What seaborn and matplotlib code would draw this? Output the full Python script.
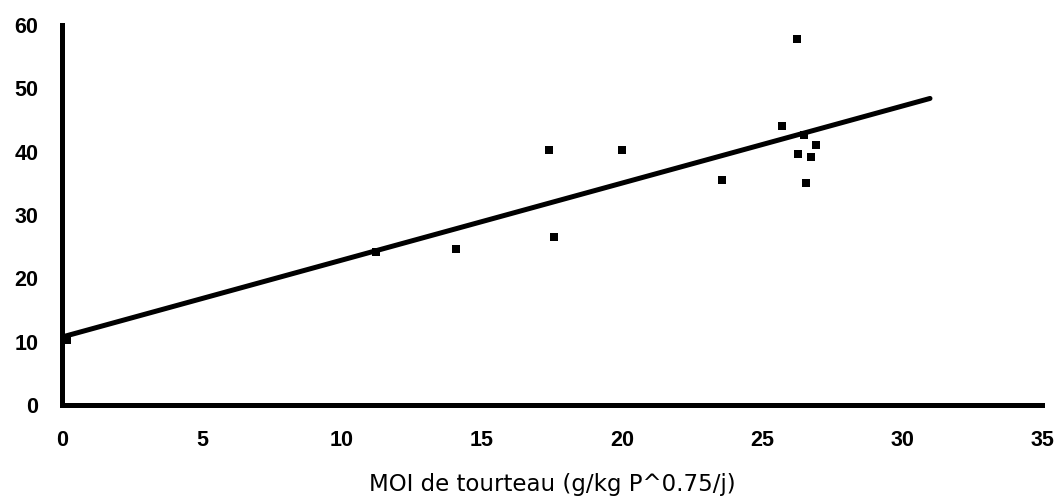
import numpy as np
import pandas as pd
import matplotlib
matplotlib.use("Agg")
import matplotlib.pyplot as plt
import seaborn as sns

# Cake intake (g/kg P^0.75/d) and response values
moi_tourteau = [0.18, 11.21, 14.07, 17.39, 17.57, 20.0, 23.57,
                26.25, 25.7, 26.5, 26.93, 26.3, 26.75, 26.57]
reponse = [10.3, 24.2, 24.7, 40.3, 26.6, 40.3, 35.6,
           57.75, 44.1, 42.6, 41.1, 39.7, 39.2, 35.0]

# Linear trendline, drawn over this x range
trend_range = [0.0, 31.0]

x_ticks = [0, 5, 10, 15, 20, 25, 30, 35]
y_ticks = [0, 10, 20, 30, 40, 50, 60]
x_label = "MOI de tourteau (g/kg P^0.75/j)"

df = pd.DataFrame({"x": moi_tourteau, "y": reponse})
slope, intercept = np.polyfit(df["x"], df["y"], 1)
trend = pd.DataFrame({"x": trend_range})
trend["y"] = intercept + slope * trend["x"]

sns.set_theme(style="white")
plt.rcParams["font.family"] = ["Liberation Sans", "DejaVu Sans"]

fig = plt.figure(figsize=(10.54, 4.99), dpi=100)
ax = fig.add_axes([62 / 1054, 94 / 499, 980 / 1054, 380 / 499])

sns.lineplot(data=trend, x="x", y="y", ax=ax, color="black",
             linewidth=3.6, zorder=2)
sns.scatterplot(data=df, x="x", y="y", ax=ax, marker="s", s=38,
                color="black", edgecolor="black", linewidth=0,
                zorder=3, clip_on=False)

ax.set_xlim(0, 35)
ax.set_ylim(0, 60)
ax.set_xticks(x_ticks)
ax.set_yticks(y_ticks)
tick_font = dict(fontsize=15.5, fontweight="bold")
ax.set_xticklabels([str(t) for t in x_ticks], **tick_font)
ax.set_yticklabels([str(t) for t in y_ticks], **tick_font)
ax.tick_params(axis="both", direction="in", length=5, width=3.6,
               color="black", labelcolor="black")
ax.tick_params(axis="x", pad=18)
ax.tick_params(axis="y", pad=17)

for side in ("top", "right"):
    ax.spines[side].set_visible(False)
for side in ("left", "bottom"):
    ax.spines[side].set_color("black")
    ax.spines[side].set_linewidth(3.6)
    ax.spines[side].set_capstyle("projecting")

ax.set_xlabel(x_label, fontsize=16.5, color="black", labelpad=16,
              family=["DejaVu Sans"])
ax.set_ylabel("")

fig.savefig("out.png", dpi=100, facecolor="white")
